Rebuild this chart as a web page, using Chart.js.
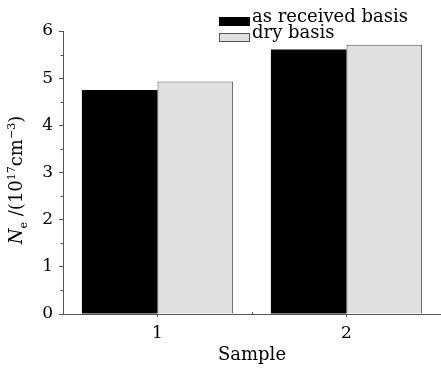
<!DOCTYPE html>
<html>
<head>
<meta charset="utf-8">
<script src="https://cdn.jsdelivr.net/npm/chart.js@4/dist/chart.umd.min.js"></script>
<style>
html,body{margin:0;padding:0;background:#fff;}
#wrap{width:441px;height:368px;position:relative;}
</style>
</head>
<body>
<div id="wrap"><canvas id="c" width="441" height="368"></canvas></div>
<script>
const categories = ['1', '2'];
const asReceived = [4.75, 5.61];
const dryBasis = [4.93, 5.71];
const seriesNames = ['as received basis', 'dry basis'];
const yMin = 0, yMax = 6, yStep = 1, yMinorStep = 0.5;
const xTitle = 'Sample';

const AX = '#555';
const SERIF = '"DejaVu Serif", serif';

const minorTicks = {
  id: 'minorTicks',
  afterDraw(chart) {
    const ctx = chart.ctx, y = chart.scales.y, x = chart.scales.x;
    ctx.save();
    ctx.strokeStyle = AX; ctx.lineWidth = 1;
    for (let v = yMin + yMinorStep; v < yMax; v += yStep) {
      const py = Math.round(y.getPixelForValue(v)) + 0.5;
      ctx.beginPath(); ctx.moveTo(y.right - 2.5, py); ctx.lineTo(y.right, py); ctx.stroke();
    }
    const px = Math.round(x.getPixelForValue(0.5)) + 0.5;
    ctx.beginPath(); ctx.moveTo(px, x.top - 2); ctx.lineTo(px, x.top); ctx.stroke();
    ctx.restore();
  }
};

const yTitlePlugin = {
  id: 'yTitle',
  afterDraw(chart) {
    const ctx = chart.ctx;
    const parts = [
      {t: 'N', f: 'italic 18px ' + SERIF, dy: 0},
      {t: 'e', f: '11px ' + SERIF, dy: 5},
      {t: ' /(10', f: '18px ' + SERIF, dy: 0},
      {t: '17', f: '11px ' + SERIF, dy: -7},
      {t: 'cm', f: '18px ' + SERIF, dy: 0},
      {t: '\u22123', f: '11px ' + SERIF, dy: -7},
      {t: ')', f: '18px ' + SERIF, dy: 0}
    ];
    ctx.save();
    let total = 0;
    parts.forEach(p => { ctx.font = p.f; p.w = ctx.measureText(p.t).width; total += p.w; });
    ctx.translate(22, 180);
    ctx.rotate(-Math.PI / 2);
    ctx.fillStyle = '#000';
    ctx.textBaseline = 'alphabetic';
    let cx = -total / 2;
    parts.forEach(p => { ctx.font = p.f; ctx.fillText(p.t, cx, p.dy); cx += p.w; });
    ctx.restore();
  }
};

const legendPlugin = {
  id: 'customLegend',
  afterDraw(chart) {
    const ctx = chart.ctx;
    ctx.save();
    chart.data.datasets.forEach((ds, i) => {
      const top = 17 + i * 16;
      ctx.fillStyle = ds.backgroundColor;
      ctx.fillRect(219, top, 31, 9);
      if (i === 1) { ctx.strokeStyle = AX; ctx.lineWidth = 1; ctx.strokeRect(219.5, top + 0.5, 30, 8); }
      ctx.fillStyle = '#000';
      ctx.font = '18px ' + SERIF;
      ctx.textBaseline = 'alphabetic';
      ctx.fillText(ds.label, 252, 22 + i * 16);
    });
    ctx.restore();
  }
};

new Chart(document.getElementById('c'), {
  type: 'bar',
  data: {
    labels: categories,
    datasets: [
      {label: seriesNames[0], data: asReceived, backgroundColor: '#000000', borderColor: '#000000', borderWidth: 0},
      {label: seriesNames[1], data: dryBasis, backgroundColor: '#e0e0e0', borderColor: '#555555', borderWidth: 1}
    ]
  },
  options: {
    responsive: false,
    animation: false,
    layout: {padding: {top: 31, right: 0, left: 0, bottom: 0}},
    plugins: {legend: {display: false}, tooltip: {enabled: false}},
    datasets: {bar: {categoryPercentage: 0.8, barPercentage: 1.0}},
    scales: {
      x: {
        grid: {display: true, drawOnChartArea: false, offset: false, tickLength: 3, color: AX},
        border: {display: true, color: AX},
        ticks: {color: '#000', font: {family: SERIF, size: 17}, padding: 6},
        title: {display: true, text: xTitle, color: '#000', font: {family: SERIF, size: 18}, padding: {top: 0, bottom: 2}},
        afterFit(s) { s.height = 54; }
      },
      y: {
        min: yMin, max: yMax,
        grid: {display: true, drawOnChartArea: false, tickLength: 4, color: AX},
        border: {display: true, color: AX},
        ticks: {stepSize: yStep, color: '#000', font: {family: SERIF, size: 17}, padding: 6},
        afterFit(s) { s.width = 63; }
      }
    }
  },
  plugins: [minorTicks, yTitlePlugin, legendPlugin]
});
</script>
</body>
</html>
